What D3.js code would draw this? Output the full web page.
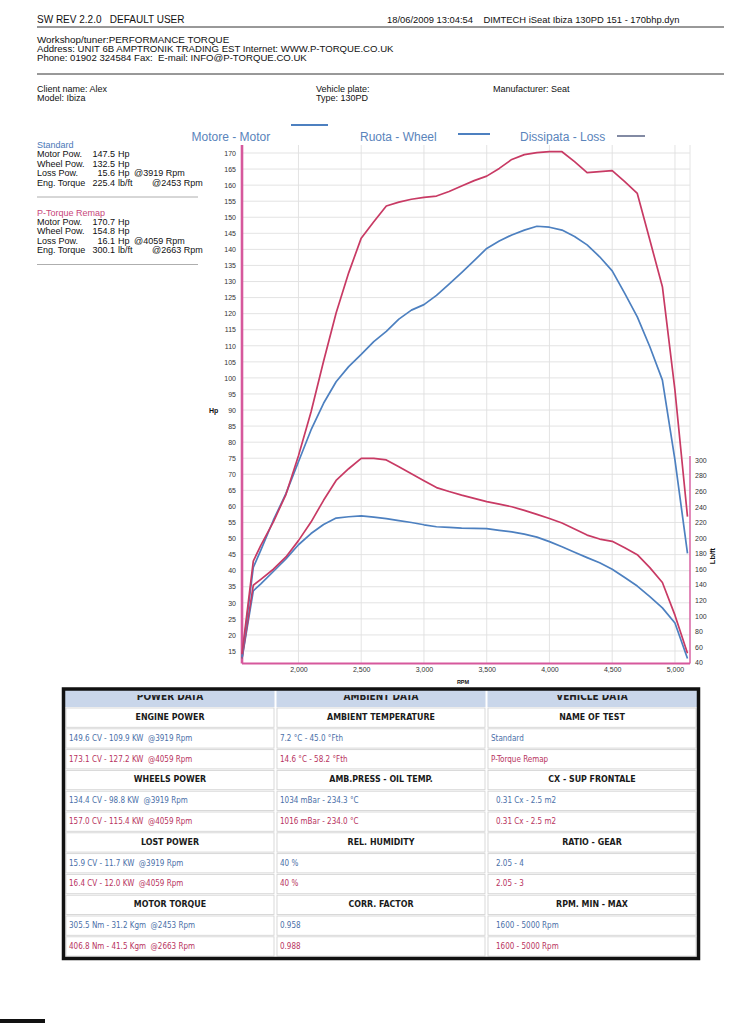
<!DOCTYPE html>
<html><head><meta charset="utf-8">
<script src="https://cdn.jsdelivr.net/npm/d3@7"></script>
<style>body{margin:0;background:#fff}svg{display:block}text{white-space:pre}</style>
</head><body><svg id="c" width="743" height="1023"></svg>
<script>
// ---------- DATA ----------
const rpm = [1550,1640,1700,1800,1900,2000,2100,2200,2300,2400,2500,2600,2700,2800,2900,3000,3100,3200,3300,3400,3500,3600,3700,3800,3900,4000,4100,4200,4300,4400,4500,4600,4700,4800,4900,5000,5100];
const remapPower = [14,43,47.9,55.2,63.7,75.8,89.4,105.2,120.2,132.7,143.5,148.6,153.5,154.7,155.6,156.2,156.6,158.0,159.7,161.4,162.8,165.2,168.0,169.5,170.1,170.4,170.4,167.3,163.9,164.2,164.5,161.1,157.4,142.9,128.4,96.2,56.8];
const stdPower = [13,41,46.4,55.7,64.0,73.9,83.8,92.1,98.8,103.5,107.3,111.3,114.5,118.3,121.1,122.8,125.7,129.2,132.8,136.5,140.3,142.6,144.5,146.0,147.2,146.9,146.0,144.0,141.4,137.7,133.3,126.3,119.0,109.7,99.3,74.5,45.4];
const remapTorque = [45.5,139.4,146.9,159.9,175.7,196.6,220.4,248.3,273.8,288.8,302.2,302.2,300.1,291.3,282.5,273.4,264.6,259.6,255.0,250.8,246.6,243.3,240.0,235.4,230.3,225.0,219.1,211.6,203.7,198.6,195.7,187.4,178.6,161.9,142.8,101.0,52.2];
const stdTorque = [45.4,132.2,141.2,157.0,173.1,191.3,205.7,217.3,225.5,227.2,228.4,226.7,224.7,222.2,219.8,216.9,214.4,213.6,212.7,212.3,212.0,209.8,207.8,204.9,201.1,195.3,188.8,181.7,174.8,168.1,159.9,149.2,138.3,124.7,110.3,90.9,45.4];

const xTicks = [2000,2500,3000,3500,4000,4500,5000];
const hpTicks = d3.range(15,171,5);
const tqTicks = d3.range(40,301,20);

const legendNames = ["Motore - Motor","Ruota - Wheel","Dissipata - Loss"];
const stdStats = [["Motor Pow.","147.5","Hp",""],["Wheel Pow.","132.5","Hp",""],["Loss Pow.","15.6","Hp","@3919 Rpm"],["Eng. Torque","225.4","lb/ft","@2453 Rpm"]];
const remapStats = [["Motor Pow.","170.7","Hp",""],["Wheel Pow.","154.8","Hp",""],["Loss Pow.","16.1","Hp","@4059 Rpm"],["Eng. Torque","300.1","lb/ft","@2663 Rpm"]];

const tableHeads = ["POWER DATA","AMBIENT DATA","VEHICLE DATA"];
const sectionTitles = [["ENGINE POWER","AMBIENT TEMPERATURE","NAME OF TEST"],["WHEELS POWER","AMB.PRESS - OIL TEMP.","CX - SUP FRONTALE"],["LOST POWER","REL. HUMIDITY","RATIO - GEAR"],["MOTOR TORQUE","CORR. FACTOR","RPM. MIN - MAX"]];
const stdRows = [["149.6 CV - 109.9 KW  @3919 Rpm","7.2 °C - 45.0 °Fth","Standard"],["134.4 CV - 98.8 KW  @3919 Rpm","1034 mBar - 234.3 °C","0.31 Cx - 2.5 m2"],["15.9 CV - 11.7 KW  @3919 Rpm","40 %","2.05 - 4"],["305.5 Nm - 31.2 Kgm  @2453 Rpm","0.958","1600 - 5000 Rpm"]];
const remapRows = [["173.1 CV - 127.2 KW  @4059 Rpm","14.6 °C - 58.2 °Fth","P-Torque Remap"],["157.0 CV - 115.4 KW  @4059 Rpm","1016 mBar - 234.0 °C","0.31 Cx - 2.5 m2"],["16.4 CV - 12.0 KW  @4059 Rpm","40 %","2.05 - 3"],["406.8 Nm - 41.5 Kgm  @2663 Rpm","0.988","1600 - 5000 Rpm"]];

// ---------- STYLE ----------
const BLUE = "#4d80c0", RED = "#c83a64", PINK = "#d6589c";
const F = "'Liberation Sans', Arial, sans-serif";
const TF = "'DejaVu Sans Condensed','DejaVu Sans', sans-serif";

const svg = d3.select("#c");
svg.append("rect").attr("width",743).attr("height",1023).attr("fill","#fff");

function txt(x,y,s,o={}) {
  const t = svg.append("text").attr("x",x).attr("y",y).text(s)
    .attr("font-family",o.ff||F).attr("font-size",o.fs||10).attr("fill",o.c||"#111");
  if (o.anchor) t.attr("text-anchor",o.anchor);
  if (o.fw) t.attr("font-weight",o.fw);
  return t;
}

// ---------- HEADER ----------
txt(37,23,"SW REV 2.2.0   DEFAULT USER",{fs:10});
txt(387,23,"18/06/2009 13:04:54    DIMTECH iSeat Ibiza 130PD 151 - 170bhp.dyn",{fs:9.4});
svg.append("line").attr("x1",37).attr("x2",724).attr("y1",27).attr("y2",27).attr("stroke","#333").attr("stroke-width",1);
txt(37,43,"Workshop/tuner:PERFORMANCE TORQUE",{fs:9.8});
txt(37,52,"Address: UNIT 6B AMPTRONIK TRADING EST Internet: WWW.P-TORQUE.CO.UK",{fs:9.6});
txt(37,61,"Phone: 01902 324584 Fax:  E-mail: INFO@P-TORQUE.CO.UK",{fs:9.6});
svg.append("line").attr("x1",37).attr("x2",724).attr("y1",74).attr("y2",74).attr("stroke","#333").attr("stroke-width",1);
txt(37,92,"Client name: Alex",{fs:9});
txt(37,101,"Model: Ibiza",{fs:9});
txt(316,92,"Vehicle plate:",{fs:9});
txt(316,101,"Type: 130PD",{fs:9});
txt(493,92,"Manufacturer: Seat",{fs:9});

// ---------- LEFT STATS ----------
function stats(y0,title,col,rows){
  txt(37,y0,title,{fs:9,c:col});
  rows.forEach((r,i)=>{
    const y = y0+9.4*(i+1);
    txt(37,y,r[0],{fs:9});
    txt(115,y,r[1],{fs:9,anchor:"end"});
    txt(118,y,r[2],{fs:9});
    if (r[3]) txt(i===2?134:152,y,r[3],{fs:9});
  });
  svg.append("line").attr("x1",37).attr("x2",198).attr("y1",y0+49).attr("y2",y0+49).attr("stroke","#999").attr("stroke-width",0.8);
}
stats(148,"Standard","#4a78b8",stdStats);
stats(215.5,"P-Torque Remap","#c8467a",remapStats);

// ---------- CHART ----------
const x = d3.scaleLinear().domain([1550,5120]).range([242,690]);
const yHp = d3.scaleLinear().domain([15,170]).range([651,153]);
const yTq = d3.scaleLinear().domain([40,300]).range([662.7,460]);
const plotTop = 145, plotBot = 663.5, plotL = 242, plotR = 690;

// grid
const g = svg.append("g");
g.selectAll(".hg").data(hpTicks).join("line")
  .attr("x1",plotL).attr("x2",plotR).attr("y1",d=>yHp(d)).attr("y2",d=>yHp(d))
  .attr("stroke","#e0e0e0").attr("stroke-width",0.9);
g.selectAll(".vg").data(xTicks).join("line")
  .attr("x1",d=>x(d)).attr("x2",d=>x(d)).attr("y1",plotTop).attr("y2",plotBot)
  .attr("stroke","#e0e0e0").attr("stroke-width",0.9);
g.append("line").attr("x1",plotR).attr("x2",plotR).attr("y1",plotTop).attr("y2",455).attr("stroke","#e4e4e4");

// left axis
const ax = svg.append("g").attr("transform",`translate(${plotL - 6},0)`)
  .call(d3.axisLeft(yHp).tickValues(hpTicks).tickSize(0).tickPadding(0));
ax.select(".domain").remove();
ax.selectAll("text").attr("font-family",F).attr("font-size",7).attr("fill","#333");
// right axis
const axr = svg.append("g").attr("transform",`translate(${plotR + 5},0)`)
  .call(d3.axisRight(yTq).tickValues(tqTicks).tickSize(0).tickPadding(0));
axr.select(".domain").remove();
axr.selectAll("text").attr("font-family",F).attr("font-size",7).attr("fill","#333");
// bottom axis
const axb = svg.append("g").attr("transform",`translate(0,${plotBot + 4})`)
  .call(d3.axisBottom(x).tickValues(xTicks).tickSize(0).tickPadding(0).tickFormat(d3.format(",")));
axb.select(".domain").remove();
axb.selectAll("text").attr("font-family",F).attr("font-size",7).attr("fill","#333");

svg.append("line").attr("x1",plotL).attr("x2",plotL).attr("y1",plotTop).attr("y2",plotBot).attr("stroke",PINK).attr("stroke-width",2.6);
svg.append("line").attr("x1",plotL).attr("x2",plotR).attr("y1",plotBot).attr("y2",plotBot).attr("stroke",PINK).attr("stroke-width",1.8);
svg.append("line").attr("x1",plotR).attr("x2",plotR).attr("y1",456).attr("y2",plotBot).attr("stroke",PINK).attr("stroke-width",1.4);

txt(209,413,"Hp",{fs:7,fw:"bold"});
txt(463,684,"RPM",{fs:5.5,fw:"bold",anchor:"middle"});
txt(0,0,"Lb/ft",{fs:7.5,fw:"bold",anchor:"middle"}).attr("transform","translate(715,556) rotate(-90)");

// curves
const pts = vals => rpm.map((r,i)=>[r,vals[i]]);
const lineHp = d3.line().x(d=>x(d[0])).y(d=>yHp(d[1]));
const lineTq = d3.line().x(d=>x(d[0])).y(d=>yTq(d[1]));
const curves = [
  {d:pts(stdTorque), l:lineTq, c:BLUE},
  {d:pts(remapTorque), l:lineTq, c:RED},
  {d:pts(stdPower), l:lineHp, c:BLUE},
  {d:pts(remapPower), l:lineHp, c:RED}
];
curves.forEach(cv=>{
  svg.append("path").attr("d",cv.l(cv.d)).attr("fill","none")
    .attr("stroke",cv.c).attr("stroke-width",1.7).attr("stroke-linejoin","round");
});

// legend
const legX = [191.5,360,520];
legendNames.forEach((n,i)=>txt(legX[i],141,n,{fs:12,c:"#5a84bb"}));
const samp = [[291,328,125,BLUE,2],[458,490,134,BLUE,2],[617,645,136,"#2f3d66",1.2]];
samp.forEach(s=>svg.append("line").attr("x1",s[0]).attr("x2",s[1]).attr("y1",s[2]).attr("y2",s[2]).attr("stroke",s[3]).attr("stroke-width",s[4]));

// ---------- TABLE ----------
const cols = [[66,274],[277,485],[488,696]];
const rowTop = 707, rowH = 20.8;
// header band
svg.append("rect").attr("x",64).attr("y",690).attr("width",634).attr("height",17).attr("fill","#c9d6ea");
svg.append("clipPath").attr("id","hc").append("rect").attr("x",64).attr("y",695).attr("width",634).attr("height",12);
tableHeads.forEach((h,i)=>{
  txt((cols[i][0]+cols[i][1])/2,699.5,h,{ff:TF,fs:10,fw:"bold",anchor:"middle",c:"#222"}).attr("clip-path","url(#hc)");
});
cols.slice(1).forEach(c=>svg.append("line").attr("x1",c[0]-1.5).attr("x2",c[0]-1.5).attr("y1",690).attr("y2",707).attr("stroke","#fff").attr("stroke-width",2));

for (let s=0;s<4;s++){
  const yT = rowTop + s*3*rowH;
  for (let k=0;k<3;k++){
    const y = yT + k*rowH;
    cols.forEach((c,i)=>{
      svg.append("rect").attr("x",c[0]).attr("y",y+1).attr("width",c[1]-c[0]).attr("height",rowH-1.5)
        .attr("fill","#fff").attr("stroke","#d4d4d4").attr("stroke-width",0.9);
    });
  }
  sectionTitles[s].forEach((t,i)=>txt((cols[i][0]+cols[i][1])/2,yT+13,t,{ff:TF,fs:8.8,fw:"bold",anchor:"middle",c:"#1a1a1a"}));
  stdRows[s].forEach((t,i)=>txt(cols[i][0]+(i===2&&s>0?8:3),yT+rowH+13,t,{ff:TF,fs:8,c:"#4a6fa8"}));
  remapRows[s].forEach((t,i)=>txt(cols[i][0]+(i===2&&s>0?8:3),yT+2*rowH+13,t,{ff:TF,fs:8,c:"#b8335e"}));
}
// frame
svg.append("rect").attr("x",63.5).attr("y",689).attr("width",635).attr("height",269.5)
  .attr("fill","none").attr("stroke","#111").attr("stroke-width",3.5);

// scan artefact bottom-left
svg.append("rect").attr("x",0).attr("y",1019).attr("width",45).attr("height",4).attr("fill","#111");
</script></body></html>
